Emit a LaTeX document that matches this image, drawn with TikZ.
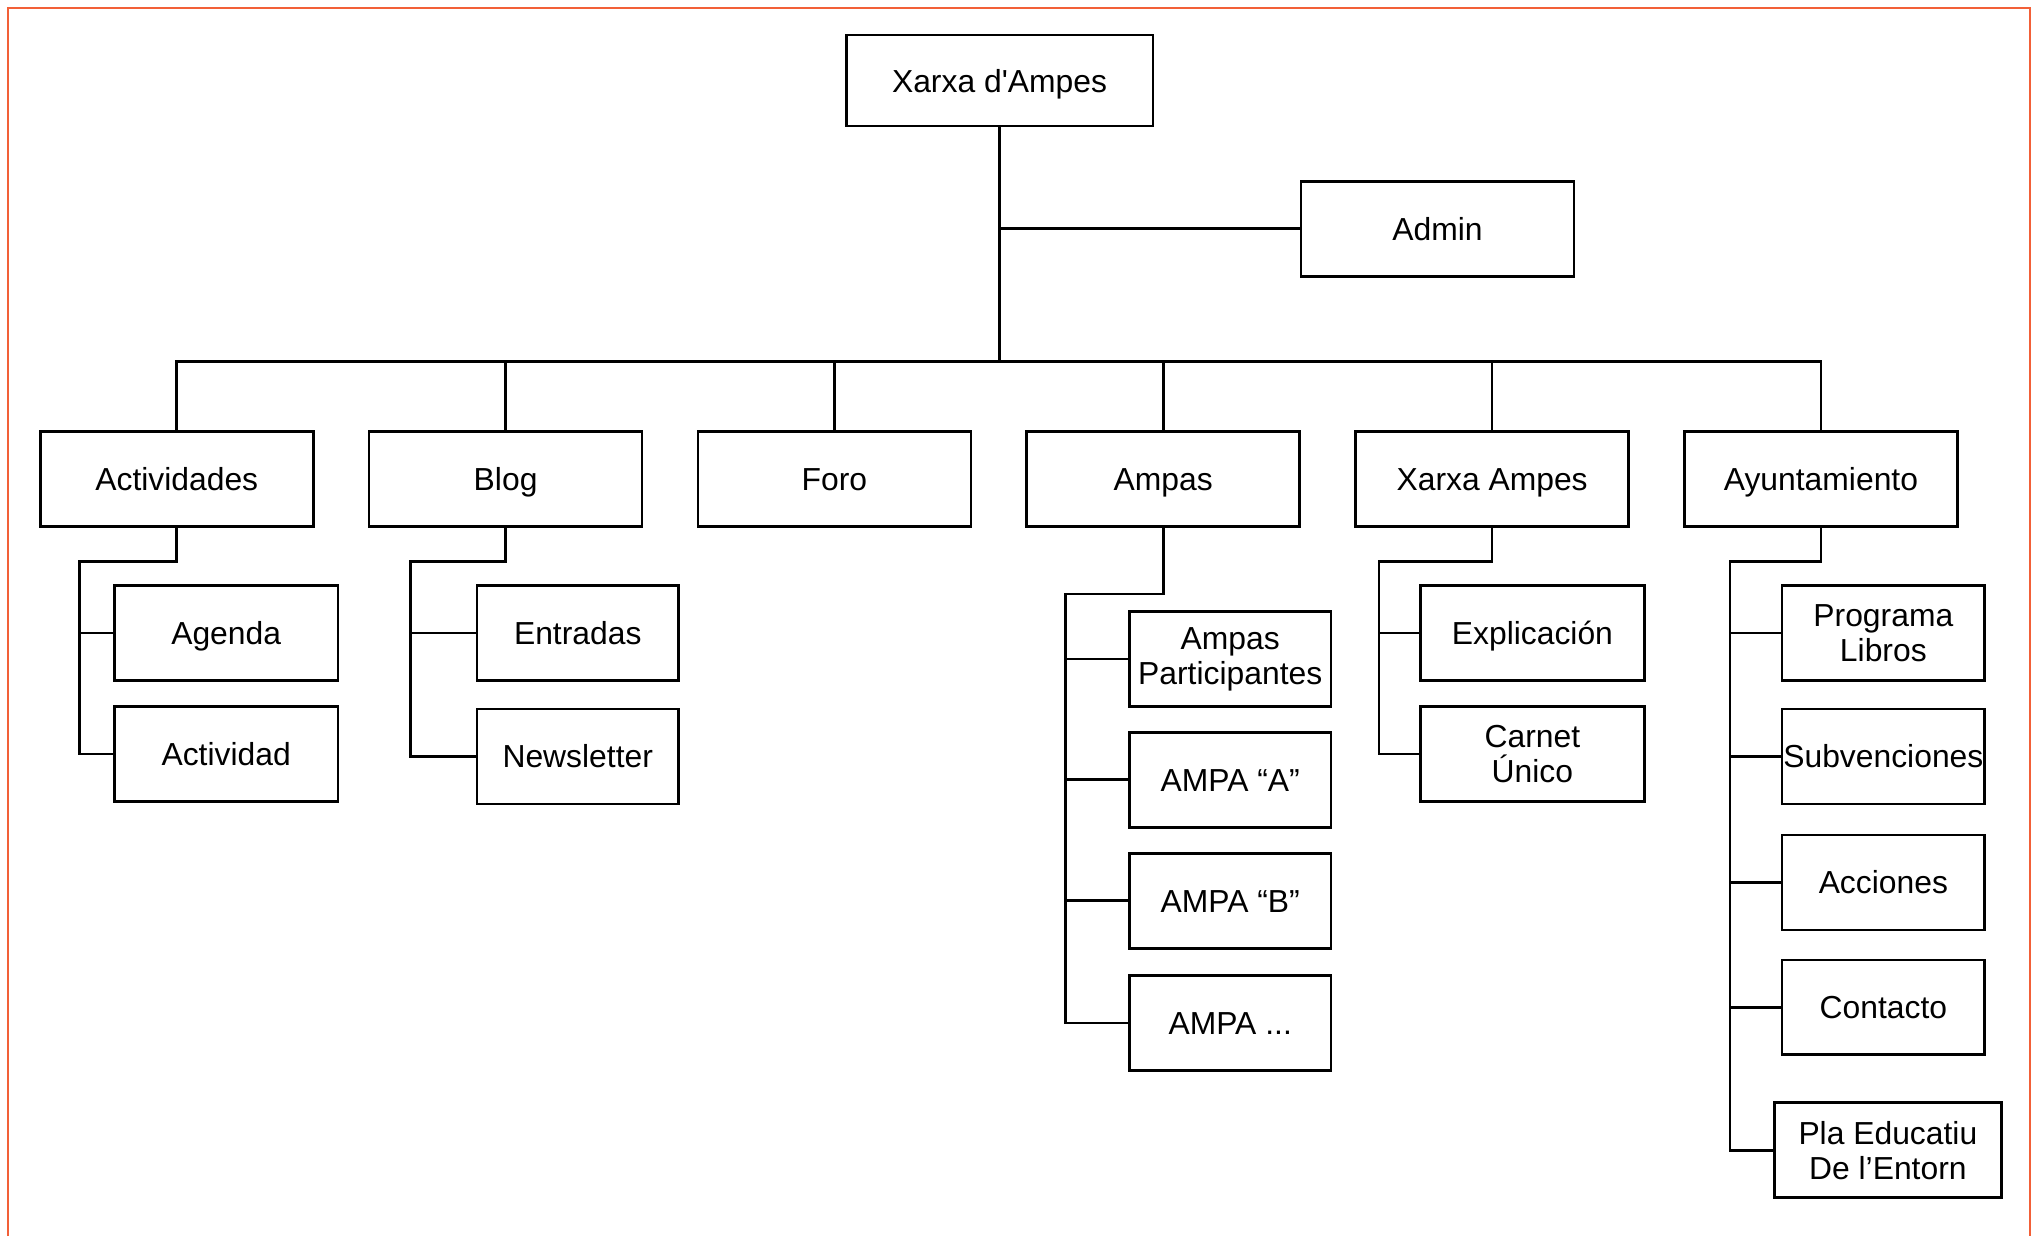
\documentclass[tikz,border=0pt]{standalone}
\usepackage{fontspec}
\setmainfont{Liberation Sans}
\definecolor{frame}{RGB}{242,96,56}
\newcommand{\straightq}{\XeTeXglyph\the\XeTeXcharglyph"27\relax}
\begin{document}
\begin{tikzpicture}[x=1pt,y=-1pt,
  box/.style={draw, line width=2.1pt, minimum height=73pt, inner sep=0pt, align=center,
    font=\fontsize{24.5}{27}\selectfont, text height=22pt, text depth=4.4pt},
  two/.style={text height={}, text depth={}},
  wire/.style={line width=2.1pt},
  ]
\useasboundingbox (0,0) rectangle (1568,951);
\draw[frame, line width=1.5pt] (6,951) -- (6,6) -- (1562,6) -- (1562,951);

% root and admin
\node[box, minimum width=236pt, minimum height=70pt] (root) at (769,62) {Xarxa d\straightq Ampes};
\node[box, minimum width=210pt] (admin) at (1106,176) {Admin};

% level 1
\node[box, minimum width=210pt] (act)  at (136,368.5) {Actividades};
\node[box, minimum width=210pt] (blog) at (389,368.5) {Blog};
\node[box, minimum width=210pt] (foro) at (642,368.5) {Foro};
\node[box, minimum width=210pt] (amp)  at (895,368.5) {Ampas};
\node[box, minimum width=210pt] (xar)  at (1148,368.5) {Xarxa Ampes};
\node[box, minimum width=210pt] (ayu)  at (1401,368.5) {Ayuntamiento};

% children
\node[box, minimum width=172pt] (agenda) at (174,487) {Agenda};
\node[box, minimum width=172pt] (activ)  at (174,580) {Actividad};

\node[box, minimum width=155pt] (entr) at (444.5,487) {Entradas};
\node[box, minimum width=155pt] (news) at (444.5,582) {Newsletter};

\node[box, two, minimum width=155pt] (part) at (946.5,507) {Ampas\\Participantes};
\node[box, minimum width=155pt] (ampa) at (946.5,600) {AMPA “A”};
\node[box, minimum width=155pt] (ampb) at (946.5,693) {AMPA “B”};
\node[box, minimum width=155pt] (ampx) at (946.5,787) {AMPA ...};

\node[box, minimum width=172pt] (expl) at (1179,487) {Explicación};
\node[box, two, minimum width=172pt] (carn) at (1179,580) {Carnet\\Único};

\node[box, two, minimum width=156pt] (prog) at (1449,487) {Programa\\Libros};
\node[box, minimum width=156pt] (subv) at (1449,582) {Subvenciones};
\node[box, minimum width=156pt] (acci) at (1449,679) {Acciones};
\node[box, minimum width=156pt] (cont) at (1449,775) {Contacto};
\node[box, two, minimum width=175pt] (pla)  at (1452.5,885) {Pla Educatiu\\De l’Entorn};

% junctions
\coordinate (bus) at (769,278);
\coordinate (jact) at (61,432);
\coordinate (jblog) at (316,432);
\coordinate (jamp) at (820,457);
\coordinate (jxar) at (1061,432);
\coordinate (jayu) at (1331,432);

% top connectors
\draw[wire] (root.south) -- (bus);
\draw[wire] (root.south |- admin.west) -- (admin.west);
\draw[wire] (act.north) |- (bus) -| (ayu.north);
\draw[wire] (blog.north) -- (blog.north |- bus);
\draw[wire] (foro.north) -- (foro.north |- bus);
\draw[wire] (amp.north) -- (amp.north |- bus);
\draw[wire] (xar.north) -- (xar.north |- bus);

% Actividades
\draw[wire] (act.south) |- (jact) |- (activ.west);
\draw[wire] (jact |- agenda.west) -- (agenda.west);
% Blog
\draw[wire] (blog.south) |- (jblog) |- (news.west);
\draw[wire] (jblog |- entr.west) -- (entr.west);
% Ampas
\draw[wire] (amp.south) |- (jamp) |- (ampx.west);
\draw[wire] (jamp |- part.west) -- (part.west);
\draw[wire] (jamp |- ampa.west) -- (ampa.west);
\draw[wire] (jamp |- ampb.west) -- (ampb.west);
% Xarxa Ampes
\draw[wire] (xar.south) |- (jxar) |- (carn.west);
\draw[wire] (jxar |- expl.west) -- (expl.west);
% Ayuntamiento
\draw[wire] (ayu.south) |- (jayu) |- (pla.west);
\draw[wire] (jayu |- prog.west) -- (prog.west);
\draw[wire] (jayu |- subv.west) -- (subv.west);
\draw[wire] (jayu |- acci.west) -- (acci.west);
\draw[wire] (jayu |- cont.west) -- (cont.west);
\end{tikzpicture}
\end{document}
